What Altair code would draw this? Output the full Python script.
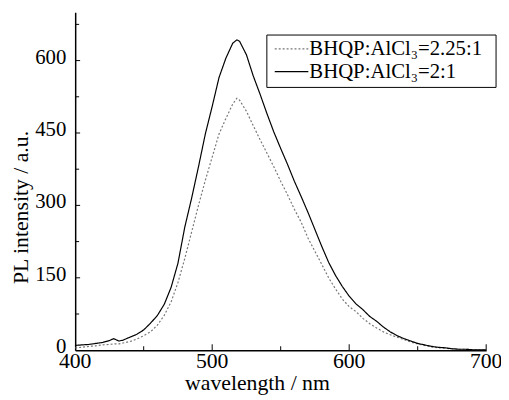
import altair as alt
import pandas as pd

wavelength = [400, 405, 410, 415, 420, 425, 428, 432, 435, 440, 445, 450, 455, 460, 465,
              470, 475, 480, 485, 490, 495, 500, 505, 510, 515, 518, 520, 525, 530, 535,
              540, 545, 550, 555, 560, 565, 570, 575, 580, 585, 590, 595, 600, 605, 610,
              615, 620, 625, 630, 635, 640, 645, 650, 655, 660, 665, 670, 675, 680, 685,
              690, 695, 700]

ratio_2_1 = [10, 11, 12, 14, 16, 20, 24, 19, 21, 27, 33, 42, 56, 72, 95,
             130, 180, 255, 315, 380, 448, 505, 565, 605, 636, 643, 640, 612, 568, 530,
             490, 452, 418, 385, 350, 318, 285, 250, 215, 182, 155, 132, 112, 96, 84,
             70, 60, 48, 38, 30, 24, 19, 14, 11, 8, 6, 5, 3, 2, 2,
             1, 1, 1]

ratio_225_1 = [5, 6, 8, 9, 11, 12, 13, 13, 15, 18, 23, 30, 38, 52, 72,
               100, 140, 190, 245, 300, 352, 400, 448, 480, 510, 522, 518, 495, 465, 436,
               408, 380, 350, 322, 292, 265, 232, 205, 178, 150, 127, 106, 90, 80, 66,
               55, 46, 38, 32, 27, 22, 17, 13, 10, 7, 5, 4, 3, 2, 2,
               1, 1, 1]

series_names = ["BHQP:AlCl₃=2.25:1", "BHQP:AlCl₃=2:1"]
series_colors = ["#777777", "#000000"]
series_dash = [[2, 2], [1, 0]]

y_major = [0, 150, 300, 450, 600]
y_minor = [75, 225, 375, 525, 675]
x_major = [400, 500, 600, 700]
x_minor = [450, 550, 650]

rows = []
for w, a, b in zip(wavelength, ratio_225_1, ratio_2_1):
    rows.append({"wavelength": w, "intensity": a, "series": series_names[0]})
    rows.append({"wavelength": w, "intensity": b, "series": series_names[1]})
df = pd.DataFrame(rows)

FONT = "Liberation Serif, Times New Roman, serif"
xscale = alt.Scale(domain=[400, 700], nice=False, zero=False)
yscale = alt.Scale(domain=[0, 700], nice=False)

lines = alt.Chart(df).mark_line(strokeWidth=1.2, clip=True).encode(
    x=alt.X("wavelength:Q", scale=xscale,
            axis=alt.Axis(values=x_major, labels=False, title="wavelength / nm",
                          titleX=184, titleY=40, titleBaseline="alphabetic")),
    y=alt.Y("intensity:Q", scale=yscale,
            axis=alt.Axis(values=y_major, labels=False, title="PL intensity / a.u.",
                          titleX=-48, titleY=197, titleBaseline="alphabetic", titleAngle=-90)),
    color=alt.Color("series:N", scale=alt.Scale(domain=series_names, range=series_colors), legend=None),
    strokeDash=alt.StrokeDash("series:N", scale=alt.Scale(domain=series_names, range=series_dash), legend=None),
)

# inward ticks
ymaj = alt.Chart(pd.DataFrame({"v": y_major[1:]})).mark_rule(color="black", strokeWidth=1).encode(
    y=alt.Y("v:Q", scale=yscale), x=alt.value(0), x2=alt.value(5))
ymin = alt.Chart(pd.DataFrame({"v": y_minor})).mark_rule(color="black", strokeWidth=1).encode(
    y=alt.Y("v:Q", scale=yscale), x=alt.value(0), x2=alt.value(4))
xmaj = alt.Chart(pd.DataFrame({"v": x_major[1:]})).mark_rule(color="black", strokeWidth=1).encode(
    x=alt.X("v:Q", scale=xscale), y=alt.value(342), y2=alt.value(336))
xmin = alt.Chart(pd.DataFrame({"v": x_minor})).mark_rule(color="black", strokeWidth=1).encode(
    x=alt.X("v:Q", scale=xscale), y=alt.value(342), y2=alt.value(338))

# tick labels
ylab = alt.Chart(pd.DataFrame({"v": y_major})).mark_text(
    font="Times New Roman", fontSize=21, align="right", baseline="middle",
    color="black", dy=-3).encode(
    y=alt.Y("v:Q", scale=yscale), x=alt.value(-9), text=alt.Text("v:Q", format="d"))
xlab = alt.Chart(pd.DataFrame({"v": x_major})).mark_text(
    font="Liberation Serif", fontSize=22, align="center", baseline="alphabetic",
    color="black").encode(
    x=alt.X("v:Q", scale=xscale), y=alt.value(360), text=alt.Text("v:Q", format="d"))

# legend
box = alt.Chart(pd.DataFrame({"k": [0]})).mark_rect(fill="white", stroke="black", strokeWidth=1).encode(
    x=alt.value(194), x2=alt.value(426), y=alt.value(23), y2=alt.value(76))
leg_layers = [box]
for i, name in enumerate(series_names):
    yy = 37 + 23 * i
    leg_layers.append(
        alt.Chart(pd.DataFrame({"k": [0]})).mark_rule(
            color=series_colors[i], strokeDash=series_dash[i], strokeWidth=1.2).encode(
            x=alt.value(202), x2=alt.value(236), y=alt.value(yy)))
    leg_layers.append(
        alt.Chart(pd.DataFrame({"k": [0]})).mark_text(
            font="serif", fontSize=21, align="left", baseline="middle",
            color="black").encode(
            x=alt.value(237), y=alt.value(yy), text=alt.value(name)))

chart = alt.layer(lines, ymaj, ymin, xmaj, xmin, ylab, xlab, *leg_layers).properties(
    width=416, height=342,
    autosize=alt.AutoSizeParams(type="none"),
    padding={"left": 68, "top": 2, "right": 15, "bottom": 46},
).configure_view(stroke=None).configure_axis(
    grid=False, ticks=False, domainColor="black", domainWidth=1.5,
    titleFont=FONT, titleFontSize=22, titleColor="black", titleFontWeight="normal",
)

chart.save("out.html", embed_options={"renderer": "svg", "actions": False})
